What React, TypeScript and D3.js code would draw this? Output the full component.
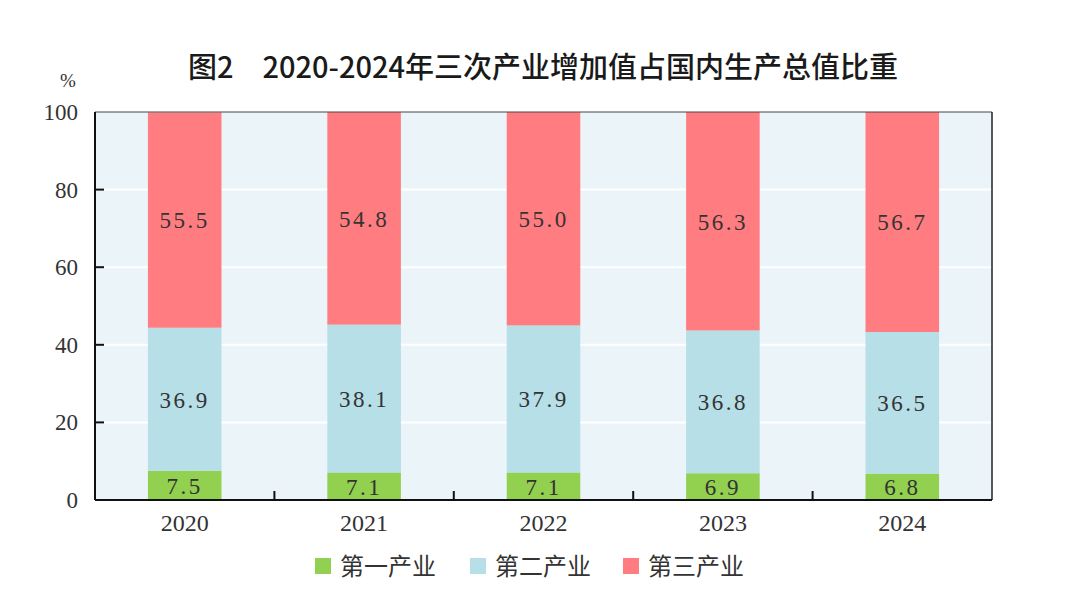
import { useEffect, useRef } from 'react';
import * as d3 from 'd3';

const years = ['2020', '2021', '2022', '2023', '2024'];
const primary = [7.5, 7.1, 7.1, 6.9, 6.8];
const secondary = [36.9, 38.1, 37.9, 36.8, 36.5];
const tertiary = [55.5, 54.8, 55.0, 56.3, 56.7];
const seriesNames = ['第一产业', '第二产业', '第三产业'];
const seriesColors = ['#92d050', '#b7dfe7', '#ff7c80'];
const yTicks = [0, 20, 40, 60, 80, 100];

export default function App() {
  const ref = useRef<SVGSVGElement>(null);

  useEffect(() => {
    if (!ref.current) return;
    const svg = d3.select(ref.current);
    svg.selectAll('*').remove();

    const margin = { top: 112, right: 88, bottom: 114, left: 95 };
    const width = 1080;
    const height = 614;
    const innerW = width - margin.left - margin.right;
    const innerH = height - margin.top - margin.bottom;

    const serif = '"Liberation Serif", "DejaVu Serif", serif';
    const cjk = '"Noto Sans CJK SC", sans-serif';

    svg.append('rect').attr('width', width).attr('height', height).attr('fill', '#ffffff');

    // 标题
    svg.append('text')
      .attr('x', 543).attr('y', 78)
      .attr('text-anchor', 'middle')
      .style('font-family', cjk)
      .style('font-weight', 500)
      .style('font-size', '29px')
      .attr('fill', '#1a1a1a')
      .text('图2\u30002020-2024年三次产业增加值占国内生产总值比重');

    const g = svg.append('g').attr('transform', `translate(${margin.left},${margin.top})`);

    const x = d3.scaleBand().domain(years).range([0, innerW]).paddingInner(0.59).paddingOuter(0.295);
    const y = d3.scaleLinear().domain([0, 100]).range([innerH, 0]);

    g.append('rect').attr('width', innerW).attr('height', innerH).attr('fill', '#ebf4f8');

    // 网格线
    g.selectAll('.grid')
      .data(yTicks.filter(t => t > 0 && t < 100))
      .enter().append('line')
      .attr('x1', 0).attr('x2', innerW)
      .attr('y1', d => y(d)).attr('y2', d => y(d))
      .attr('stroke', '#ffffff').attr('stroke-width', 2);

    const rows = years.map((yr, i) => ({ year: yr, v: [primary[i], secondary[i], tertiary[i]] }));
    const stack = d3.stack<any>().keys(['0', '1', '2']).value((d, k) => d.v[+k]);
    const layers = stack(rows);

    layers.forEach((layer, li) => {
      g.selectAll(`.bar${li}`)
        .data(layer)
        .enter().append('rect')
        .attr('x', d => x(d.data.year)!)
        .attr('width', x.bandwidth())
        .attr('y', d => y(d[1]))
        .attr('height', d => y(d[0]) - y(d[1]))
        .attr('fill', seriesColors[li]);

      g.selectAll(`.lbl${li}`)
        .data(layer)
        .enter().append('text')
        .attr('x', d => x(d.data.year)! + x.bandwidth() / 2)
        .attr('y', d => y((d[0] + d[1]) / 2))
        .attr('dy', '0.36em')
        .attr('text-anchor', 'middle')
        .style('font-family', serif)
        .style('font-size', '23px')
        .style('letter-spacing', '2.5px')
        .attr('fill', '#333333')
        .text(d => d.data.v[li].toFixed(1));
    });

    // 边框
    g.append('line').attr('x1', 0).attr('x2', innerW).attr('y1', 0).attr('y2', 0)
      .attr('stroke', '#444').attr('stroke-width', 1);
    g.append('line').attr('x1', innerW).attr('x2', innerW).attr('y1', 0).attr('y2', innerH)
      .attr('stroke', '#222').attr('stroke-width', 1.5);

    // Y轴
    g.append('line').attr('x1', 0).attr('x2', 0).attr('y1', 0).attr('y2', innerH)
      .attr('stroke', '#111').attr('stroke-width', 2);
    g.selectAll('.ytick')
      .data(yTicks.filter(t => t > 0 && t < 100))
      .enter().append('line')
      .attr('x1', 0).attr('x2', 9)
      .attr('y1', d => y(d)).attr('y2', d => y(d))
      .attr('stroke', '#111').attr('stroke-width', 2);
    g.selectAll('.ylbl')
      .data(yTicks)
      .enter().append('text')
      .attr('x', -17).attr('y', d => y(d))
      .attr('dy', '0.35em')
      .attr('text-anchor', 'end')
      .style('font-family', serif)
      .style('font-size', '23px')
      .attr('fill', '#333')
      .text(d => d);
    g.append('text')
      .attr('x', -27).attr('y', -25)
      .attr('text-anchor', 'middle')
      .style('font-family', serif)
      .style('font-size', '19px')
      .attr('fill', '#333')
      .text('%');

    // X轴
    g.append('line').attr('x1', 0).attr('x2', innerW).attr('y1', innerH).attr('y2', innerH)
      .attr('stroke', '#111').attr('stroke-width', 2);
    const step = x.step();
    g.selectAll('.xtick')
      .data(years.slice(1))
      .enter().append('line')
      .attr('x1', d => x(d)! - (step - x.bandwidth()) / 2)
      .attr('x2', d => x(d)! - (step - x.bandwidth()) / 2)
      .attr('y1', innerH).attr('y2', innerH - 9)
      .attr('stroke', '#111').attr('stroke-width', 2);
    g.selectAll('.xlbl')
      .data(years)
      .enter().append('text')
      .attr('x', d => x(d)! + x.bandwidth() / 2)
      .attr('y', innerH + 31)
      .attr('text-anchor', 'middle')
      .style('font-family', serif)
      .style('font-size', '24px')
      .attr('fill', '#333')
      .text(d => d);

    // 图例
    const legendX = [315, 470, 623];
    seriesNames.forEach((name, i) => {
      const lg = svg.append('g').attr('transform', `translate(${legendX[i]},558)`);
      lg.append('rect').attr('width', 16).attr('height', 16).attr('fill', seriesColors[i]);
      lg.append('text')
        .attr('x', 25).attr('y', 8).attr('dy', '0.36em')
        .style('font-family', cjk)
        .style('font-size', '24px')
        .attr('fill', '#333')
        .text(name);
    });
  }, []);

  return (
    <div style={{ margin: -8 }}>
      <svg ref={ref} width={1080} height={614} />
    </div>
  );
}
